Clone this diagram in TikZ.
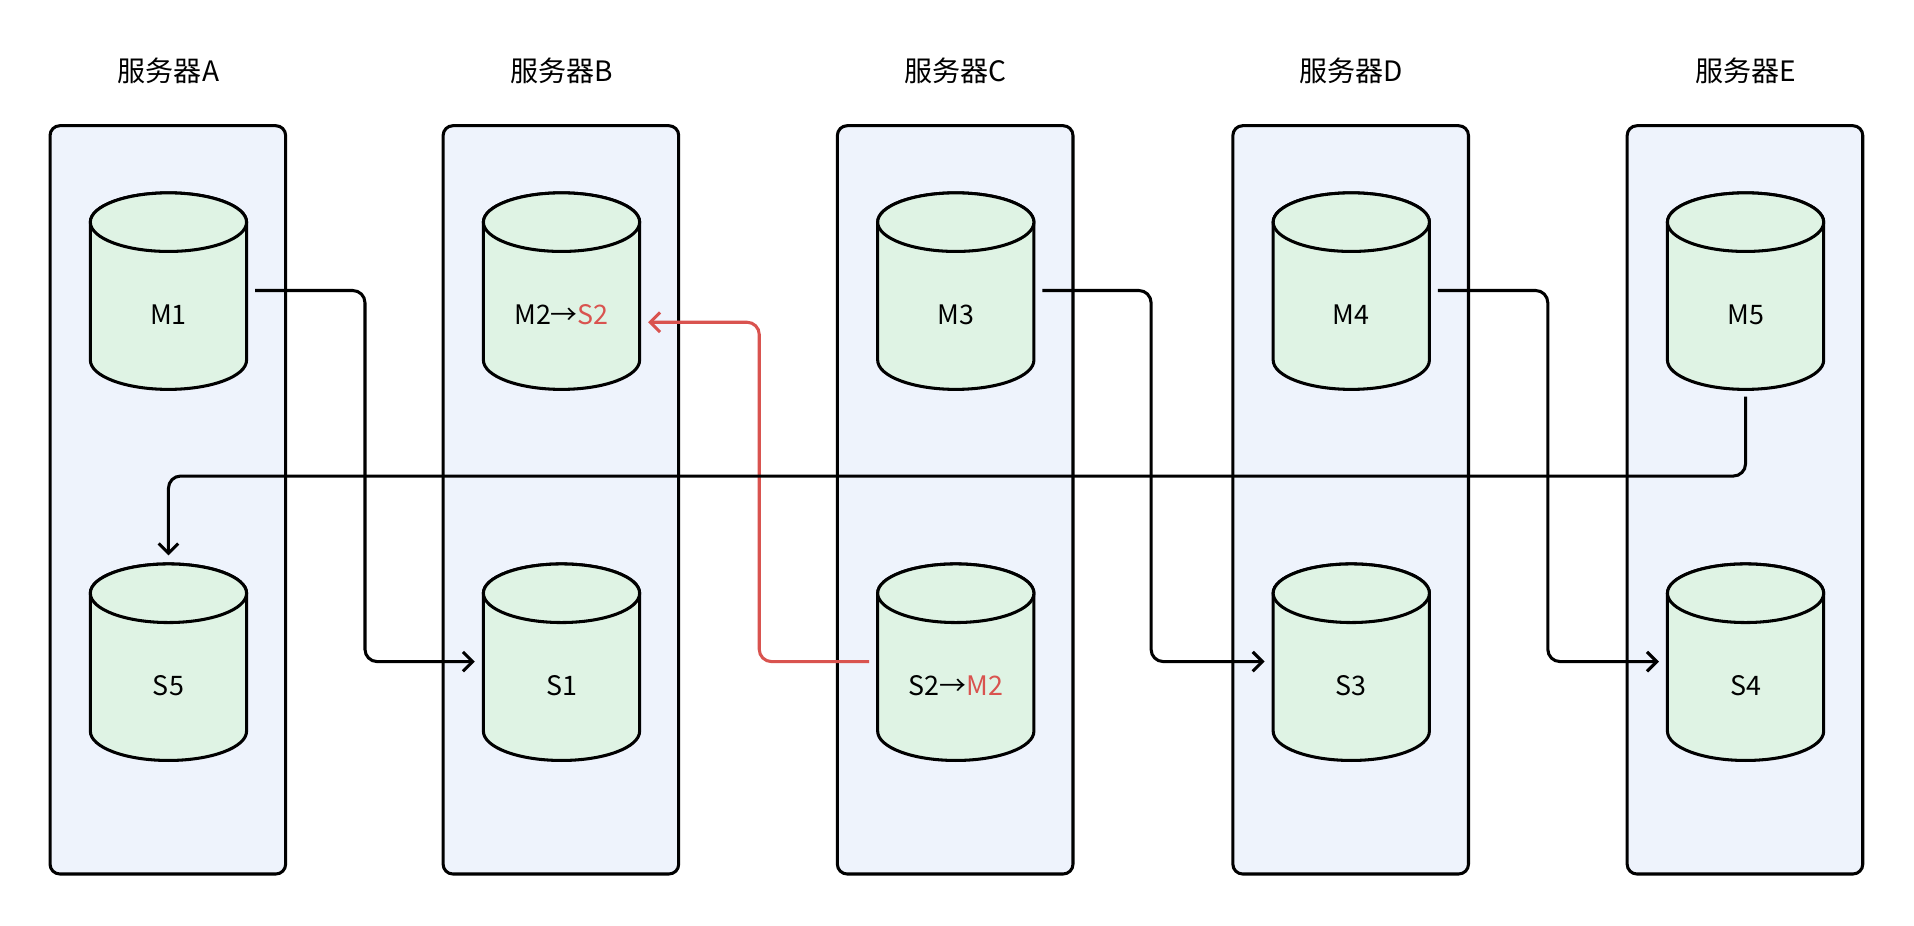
\documentclass[tikz,border=0pt]{standalone}
\usepackage{fontspec}
\setmainfont{Noto Sans CJK SC}
\usetikzlibrary{arrows.meta}
\definecolor{boxfill}{HTML}{EEF3FC}
\definecolor{cylfill}{HTML}{DFF3E4}
\definecolor{redc}{HTML}{D9534F}
\begin{document}
\begin{tikzpicture}[x=0.5pt,y=-0.5pt,
  server/.style={draw=black,line width=1.25pt,fill=boxfill,rounded corners=4pt},
  cyl/.style={draw=black,line width=1.25pt,fill=cylfill},
  body/.style={draw=none,minimum width=64pt,minimum height=80pt,inner sep=0pt,outer sep=3.5pt},
  lbl/.style={font=\fontsize{11}{13}\selectfont},
  title/.style={font=\fontsize{11.5}{14}\selectfont},
  conn/.style={line width=1.25pt,rounded corners=5pt,-{Straight Barb[length=4pt,width=8pt]}},
  redconn/.style={conn,draw=redc}]
\useasboundingbox (0,0) rectangle (1568,758);
\newcommand{\mycyl}[4]{% name, cx, top y, label
  \path[cyl] ({#2-64},{#3+24}) -- ({#2-64},{#3+137}) arc[start angle=180,end angle=0,x radius=64,y radius=24] -- ({#2+64},{#3+24}) arc[start angle=0,end angle=-180,x radius=64,y radius=24] -- cycle;
  \path[cyl] (#2,{#3+24}) ellipse[x radius=64,y radius=24];
  \node[body] (#1) at (#2,{#3+80}) {};
  \node[lbl] (#1t) at (#2,{#3+100}) {#4};}
\foreach \n/\x/\l in {a/138/A,b/460/B,c/783/C,d/1107/D,e/1430/E}{
  \path[server] ({\x-97},103) rectangle ({\x+96},716);
  \node[title] (t\n) at (\x,58) {服务器\l};
}
\mycyl{m1}{138}{158}{M1}
\mycyl{m2}{460}{158}{M2→\textcolor{redc}{S2}}
\mycyl{m3}{783}{158}{M3}
\mycyl{m4}{1107}{158}{M4}
\mycyl{m5}{1430}{158}{M5}
\mycyl{s5}{138}{462}{S5}
\mycyl{s1}{460}{462}{S1}
\mycyl{s2}{783}{462}{S2→\textcolor{redc}{M2}}
\mycyl{s3}{1107}{462}{S3}
\mycyl{s4}{1430}{462}{S4}
\draw[conn] (m1.east) -- ++(90,0) |- (s1.west);
\draw[redconn] (s2.west) -- ++(-90,0) |- ([yshift=-13pt]m2.east);
\draw[conn] (m3.east) -- ++(89,0) |- (s3.west);
\draw[conn] (m4.east) -- ++(90,0) |- (s4.west);
\draw[conn] (m5.south) -- (1430,390) -| (s5.north);
\end{tikzpicture}
\end{document}
